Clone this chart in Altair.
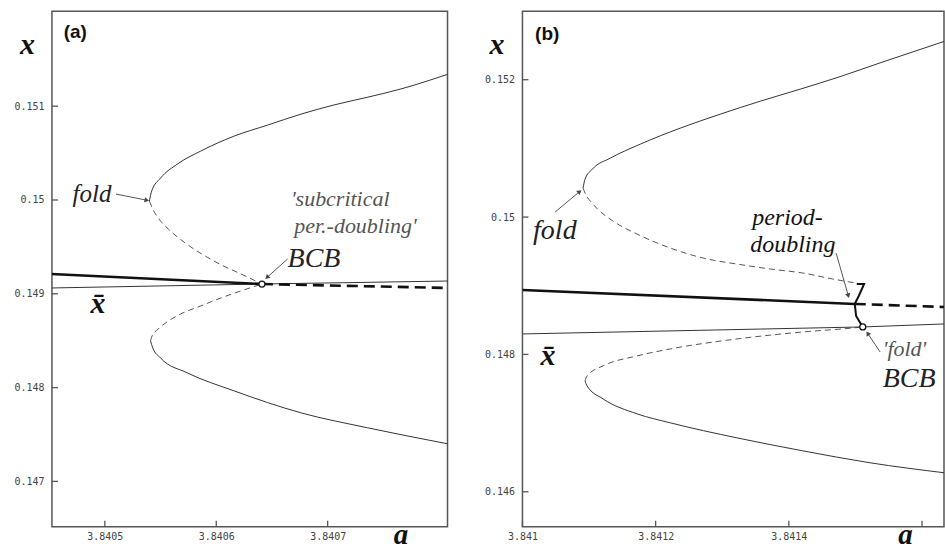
import altair as alt
import pandas as pd

# ---------------- panel (a) data ----------------
A_up_solid_a = [3.840540, 3.840542, 3.840550, 3.840565, 3.840586, 3.840616, 3.840646, 3.840676, 3.840705, 3.840736, 3.840765, 3.840808]
A_up_solid_x = [0.149988, 0.150095, 0.150233, 0.150382, 0.150521, 0.150681, 0.150798, 0.150915, 0.151011, 0.151096, 0.151181, 0.151341]
A_up_dash_a = [3.840540, 3.840543, 3.840548, 3.840557, 3.840571, 3.840598, 3.840628, 3.840641]
A_up_dash_x = [0.149988, 0.149903, 0.149807, 0.149690, 0.149552, 0.149349, 0.149179, 0.149104]
A_lo_dash_a = [3.840541, 3.840542, 3.840548, 3.840557, 3.840568, 3.840586, 3.840604, 3.840622, 3.840641]
A_lo_dash_x = [0.148497, 0.148540, 0.148625, 0.148710, 0.148785, 0.148870, 0.148955, 0.149030, 0.149104]
A_lo_solid_a = [3.840541, 3.840543, 3.840550, 3.840574, 3.840616, 3.840676, 3.840736, 3.840808]
A_lo_solid_x = [0.148497, 0.148423, 0.148316, 0.148157, 0.147965, 0.147731, 0.147571, 0.147400]
A_thick_a = [3.840452, 3.840641]
A_thick_x = [0.149211, 0.149104]
A_thick_dash_a = [3.840641, 3.840808]
A_thick_dash_x = [0.149104, 0.149062]
A_thin_a = [3.840452, 3.840641, 3.840808]
A_thin_x = [0.149062, 0.149104, 0.149136]
A_bcb = (3.840641, 0.149104)
A_xticks = [3.8405, 3.8406, 3.8407]
A_yticks = [0.147, 0.148, 0.149, 0.15, 0.151]
A_xdom = [3.8404525, 3.8408076]
A_ydom = [0.1465166, 0.1520117]
A_arrows = [  # a0, x0, a1, x1, angle
    (3.840510, 0.150063, 3.840537, 0.149999, 102),
    (3.840664, 0.149371, 3.840646, 0.149179, 226),
]
A_texts = [  # a, x, text, size, color, style, weight, font
    (3.840471, 0.149978, "fold", 25, "#222", "italic", "normal", "Liberation Serif"),
    (3.840667, 0.149935, "'subcritical", 22, "#555", "italic", "normal", "Liberation Serif"),
    (3.840670, 0.149647, "per.-doubling'", 22, "#555", "italic", "normal", "Liberation Serif"),
    (3.840664, 0.149285, "BCB", 28, "#222", "italic", "normal", "Liberation Serif"),
    (3.840487, 0.148796, "x\u0304", 30, "#111", "italic", "bold", "Liberation Serif"),
    (3.840463, 0.151724, "(a)", 19, "#111", "normal", "bold", "Liberation Sans"),
]

# ---------------- panel (b) data ----------------
B_up_solid_a = [3.841091, 3.841094, 3.841105, 3.841132, 3.841177, 3.841237, 3.841297, 3.841357, 3.841417, 3.841477, 3.841537, 3.841597, 3.841634]
B_up_solid_x = [0.150422, 0.150553, 0.150698, 0.150858, 0.151062, 0.151295, 0.151498, 0.151687, 0.151862, 0.152045, 0.152245, 0.152440, 0.152560]
B_up_dash_a = [3.841091, 3.841094, 3.841106, 3.841136, 3.841172, 3.841222, 3.841271, 3.841322, 3.841372, 3.841421, 3.841466, 3.841510]
B_up_dash_x = [0.150422, 0.150349, 0.150189, 0.149942, 0.149753, 0.149549, 0.149404, 0.149316, 0.149244, 0.149185, 0.149098, 0.149025]
B_hook_a = [3.841502, 3.841513, 3.841505, 3.841499, 3.841501, 3.841511]
B_hook_x = [0.149025, 0.149025, 0.148851, 0.148735, 0.148560, 0.148400]
B_lo_dash_a = [3.841094, 3.841097, 3.841121, 3.841172, 3.841222, 3.841322, 3.841421, 3.841496, 3.841511]
B_lo_dash_x = [0.147615, 0.147687, 0.147833, 0.147978, 0.148080, 0.148225, 0.148327, 0.148385, 0.148400]
B_lo_solid_a = [3.841094, 3.841097, 3.841121, 3.841172, 3.841222, 3.841322, 3.841421, 3.841522, 3.841634]
B_lo_solid_x = [0.147615, 0.147542, 0.147353, 0.147135, 0.147004, 0.146785, 0.146596, 0.146422, 0.146276]
B_thick_a = [3.841000, 3.841499]
B_thick_x = [0.148938, 0.148735]
B_thick_dash_a = [3.841499, 3.841634]
B_thick_dash_x = [0.148735, 0.148690]
B_thin_a = [3.841000, 3.841511, 3.841634]
B_thin_x = [0.148298, 0.148400, 0.148444]
B_bcb = (3.841511, 0.148400)
B_xticks = [3.841, 3.8412, 3.8414, 3.8416]
B_xlabels = [3.841, 3.8412, 3.8414]
B_yticks = [0.146, 0.148, 0.15, 0.152]
B_xdom = [3.841000, 3.841633]
B_ydom = [0.1454909, 0.1529964]
B_arrows = [
    (3.841049, 0.150073, 3.841085, 0.150364, 51),
    (3.841471, 0.149476, 3.841489, 0.148865, 164),
    (3.841537, 0.148036, 3.841519, 0.148298, 327),
]
B_texts = [
    (3.841016, 0.149680, "fold", 28, "#222", "italic", "normal", "Liberation Serif"),
    (3.841345, 0.149885, "period-", 24, "#111", "italic", "normal", "Liberation Serif"),
    (3.841342, 0.149495, "doubling", 24, "#111", "italic", "normal", "Liberation Serif"),
    (3.841541, 0.147978, "'fold'", 22, "#555", "italic", "normal", "Liberation Serif"),
    (3.841541, 0.147527, "BCB", 28, "#222", "italic", "normal", "Liberation Serif"),
    (3.841027, 0.147847, "x\u0304", 30, "#111", "italic", "bold", "Liberation Serif"),
    (3.841019, 0.152575, "(b)", 19, "#111", "normal", "bold", "Liberation Sans"),
]

H = 516


def make_panel(xdom, ydom, w, curves, bcb, arrows, texts, xticks, xlabels, yticks,
               xtitle_x, ytitle_x, spacer=False):
    xs = alt.Scale(domain=xdom, nice=False, zero=False)
    ys = alt.Scale(domain=ydom, nice=False, zero=False)
    ax_x = alt.Axis(values=xlabels, format="~g", ticks=False, domain=False, grid=False,
                    labelFont="DejaVu Sans Mono", labelFontSize=10, labelColor="#444",
                    labelPadding=5, labelFlush=False, labelOverlap=False,
                    title="a", titleFont="Liberation Serif", titleFontSize=29,
                    titleFontStyle="italic", titleFontWeight="bold", titleColor="#111",
                    titleAngle=0, titleAlign="center", titleBaseline="alphabetic",
                    titleX=xtitle_x, titleY=17)
    ax_y = alt.Axis(values=yticks, format="~g", ticks=False, domain=False, grid=False,
                    labelFont="DejaVu Sans Mono", labelFontSize=10, labelColor="#444",
                    labelPadding=8, labelFlush=False, labelOverlap=False,
                    title="x", titleFont="Liberation Serif", titleFontSize=30,
                    titleFontStyle="italic", titleFontWeight="bold", titleColor="#111",
                    titleAngle=0, titleAlign="center", titleBaseline="alphabetic",
                    titleX=ytitle_x, titleY=42)
    X = lambda: alt.X("a:Q", scale=xs, axis=ax_x)
    Y = lambda: alt.Y("x:Q", scale=ys, axis=ax_y)

    layers = []
    # inward tick marks
    layers.append(alt.Chart(pd.DataFrame({"x": yticks})).mark_rule(color="#555", strokeWidth=1.3)
                  .encode(y=Y(), x=alt.value(0), x2=alt.value(6)))
    layers.append(alt.Chart(pd.DataFrame({"a": xticks})).mark_rule(color="#555", strokeWidth=1.3)
                  .encode(x=X(), y=alt.value(H), y2=alt.value(H - 6)))
    for a_vals, x_vals, width, dash, color, interp in curves:
        df = pd.DataFrame({"a": a_vals, "x": x_vals, "o": list(range(len(a_vals)))})
        kw = dict(strokeWidth=width, color=color, clip=True, interpolate=interp)
        if dash:
            kw["strokeDash"] = dash
        layers.append(alt.Chart(df).mark_line(**kw).encode(x=X(), y=Y(), order="o:Q"))
    for a0, x0, a1, x1, ang in arrows:
        df = pd.DataFrame({"a": [a0, a1], "x": [x0, x1], "o": [0, 1]})
        layers.append(alt.Chart(df).mark_line(strokeWidth=0.9, color="#444")
                      .encode(x=X(), y=Y(), order="o:Q"))
        dfh = pd.DataFrame({"a": [a1], "x": [x1]})
        layers.append(alt.Chart(dfh).mark_point(shape="triangle", filled=True, size=28,
                                                 angle=ang, color="#444", opacity=1)
                      .encode(x=X(), y=Y()))
    dfc = pd.DataFrame({"a": [bcb[0]], "x": [bcb[1]]})
    layers.append(alt.Chart(dfc).mark_point(shape="circle", filled=True, fill="white",
                                             stroke="#111", strokeWidth=1.3, size=36, opacity=1)
                  .encode(x=X(), y=Y()))
    for a, x, t, size, color, style, weight, font in texts:
        df = pd.DataFrame({"a": [a], "x": [x], "t": [t]})
        layers.append(alt.Chart(df).mark_text(align="left", baseline="alphabetic", fontSize=size,
                                               font=font, fontStyle=style, fontWeight=weight,
                                               color=color)
                      .encode(x=X(), y=Y(), text="t:N"))
    if spacer:
        layers.append(alt.Chart(pd.DataFrame({"a": [xdom[0]]})).mark_rule(opacity=0, strokeWidth=0.1)
                      .encode(x=alt.value(-51), x2=alt.value(-45), y=alt.value(-10), y2=alt.value(-8)))
    return alt.layer(*layers).properties(width=w, height=H)


thin, dash_c, thick = "#333", "#555", "#111"
A_curves = [
    (A_up_solid_a, A_up_solid_x, 1.0, None, thin, "monotone"),
    (A_up_dash_a, A_up_dash_x, 1.0, [6, 4], dash_c, "monotone"),
    (A_lo_dash_a, A_lo_dash_x, 1.0, [6, 4], dash_c, "monotone"),
    (A_lo_solid_a, A_lo_solid_x, 1.0, None, thin, "monotone"),
    (A_thin_a, A_thin_x, 1.0, None, thin, "linear"),
    (A_thick_a, A_thick_x, 2.6, None, thick, "linear"),
    (A_thick_dash_a, A_thick_dash_x, 2.6, [11, 6], thick, "linear"),
]
B_curves = [
    (B_up_solid_a, B_up_solid_x, 1.0, None, thin, "monotone"),
    (B_up_dash_a, B_up_dash_x, 1.0, [6, 4], dash_c, "monotone"),
    (B_lo_dash_a, B_lo_dash_x, 1.0, [6, 4], dash_c, "monotone"),
    (B_lo_solid_a, B_lo_solid_x, 1.0, None, thin, "monotone"),
    (B_thin_a, B_thin_x, 1.0, None, thin, "linear"),
    (B_thick_a, B_thick_x, 2.6, None, thick, "linear"),
    (B_thick_dash_a, B_thick_dash_x, 2.6, [11, 6], thick, "linear"),
    (B_hook_a, B_hook_x, 2.0, None, thick, "linear"),
]

panel_a = make_panel(A_xdom, A_ydom, 396, A_curves, A_bcb, A_arrows, A_texts,
                     A_xticks, A_xticks, A_yticks, 349, -25, spacer=True)
panel_b = make_panel(B_xdom, B_ydom, 422, B_curves, B_bcb, B_arrows, B_texts,
                     B_xticks, B_xlabels, B_yticks, 383, -26)

chart = (alt.hconcat(panel_a, panel_b, spacing=75, bounds="flush")
         .properties(padding=0, background="white")
         .configure_view(stroke="#555", strokeWidth=1.5))

chart.save("out.html", embed_options={"renderer": "svg", "actions": False})
